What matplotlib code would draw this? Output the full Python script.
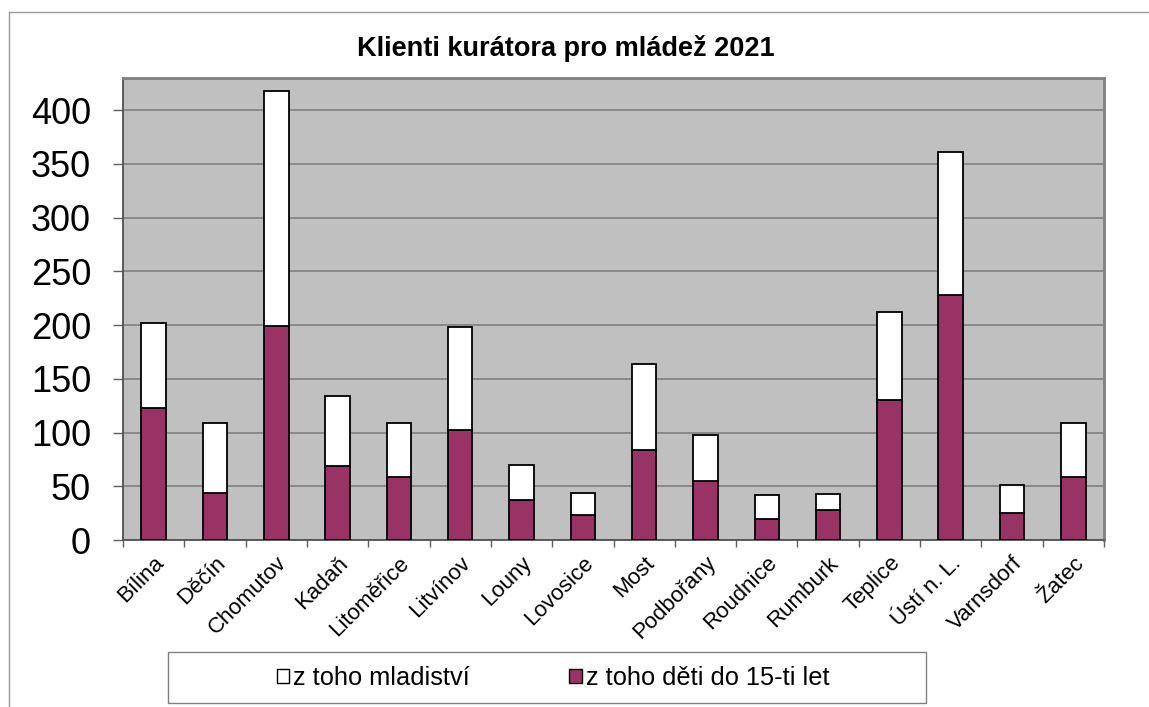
import numpy as np
import matplotlib
matplotlib.use('Agg')
import matplotlib.pyplot as plt
from matplotlib.patches import Patch, Rectangle
from matplotlib.lines import Line2D

plt.rcParams['font.family'] = ['Liberation Sans', 'DejaVu Sans']

# data
mesta = ['Bílina', 'Děčín', 'Chomutov', 'Kadaň', 'Litoměřice', 'Litvínov', 'Louny', 'Lovosice',
         'Most', 'Podbořany', 'Roudnice', 'Rumburk', 'Teplice', 'Ústí n. L.', 'Varnsdorf', 'Žatec']
deti = [123, 44, 199, 69, 59, 102, 37, 23, 84, 55, 20, 28, 130, 228, 25, 59]
mladistvi = [79, 65, 219, 65, 50, 96, 33, 21, 80, 43, 22, 15, 82, 133, 26, 50]
y_ticks = [0, 50, 100, 150, 200, 250, 300, 350, 400]

W, H = 1149, 707
fig = plt.figure(figsize=(W / 100, H / 100), dpi=100)

# outer chart frame
fig.add_artist(Line2D([9 / W, 1], [1 - 12 / H, 1 - 12 / H], color='#9a9a9a', lw=1))
fig.add_artist(Line2D([9 / W, 9 / W], [0, 1 - 12 / H], color='#9a9a9a', lw=1))

ax = fig.add_axes([123 / W, 1 - 540 / H, (1104 - 123) / W, (540 - 78) / H])
ax.set_facecolor('#c0c0c0')

x = np.arange(len(mesta))
ax.bar(x, deti, width=0.4, color='#993366', edgecolor='black', lw=1.3, zorder=3)
ax.bar(x, mladistvi, width=0.4, bottom=deti, color='white', edgecolor='black', lw=1.3, zorder=3)

ax.set_xlim(-0.5, len(mesta) - 0.5)
ax.set_ylim(0, 430)
ax.set_yticks(y_ticks)
ax.set_yticklabels([str(v) for v in y_ticks], fontsize=26)
ax.tick_params(axis='y', length=7, width=1, color='#606060', pad=16)
ax.grid(axis='y', color='#808080', lw=1.2, zorder=1)

ax.set_xticks(x)
ax.set_xticklabels(mesta, rotation=45, ha='right', va='top', rotation_mode='anchor', fontsize=16)
ax.set_xticks(np.arange(-0.5, len(mesta)), minor=True)
ax.tick_params(axis='x', which='major', length=0, pad=9)
ax.tick_params(axis='x', which='minor', length=5, width=1, color='#606060')

for s in ['left', 'bottom']:
    ax.spines[s].set_color('#505050')
    ax.spines[s].set_linewidth(1.3)
for s in ['top', 'right']:
    ax.spines[s].set_color('#808080')
    ax.spines[s].set_linewidth(2)

fig.text(566 / W, 1 - 48 / H, 'Klienti kurátora pro mládež 2021', ha='center', va='center',
         fontsize=19.5, fontweight='bold')

# legend box
fig.add_artist(Rectangle((168 / W, 1 - 703 / H), (926 - 168) / W, (703 - 652) / H,
                         transform=fig.transFigure, facecolor='white', edgecolor='#808080', lw=1))
handles = [Patch(facecolor='white', edgecolor='black', lw=1, label='z toho mladiství'),
           Patch(facecolor='#993366', edgecolor='black', lw=1, label='z toho děti do 15-ti let')]
fig.legend(handles=handles, loc='center', bbox_to_anchor=(553 / W, 1 - 678 / H), ncol=2,
           frameon=False, fontsize=18.3, handlelength=0.5, handleheight=0.5,
           handletextpad=0.15, columnspacing=3.9)

fig.savefig('out.png', dpi=100)
